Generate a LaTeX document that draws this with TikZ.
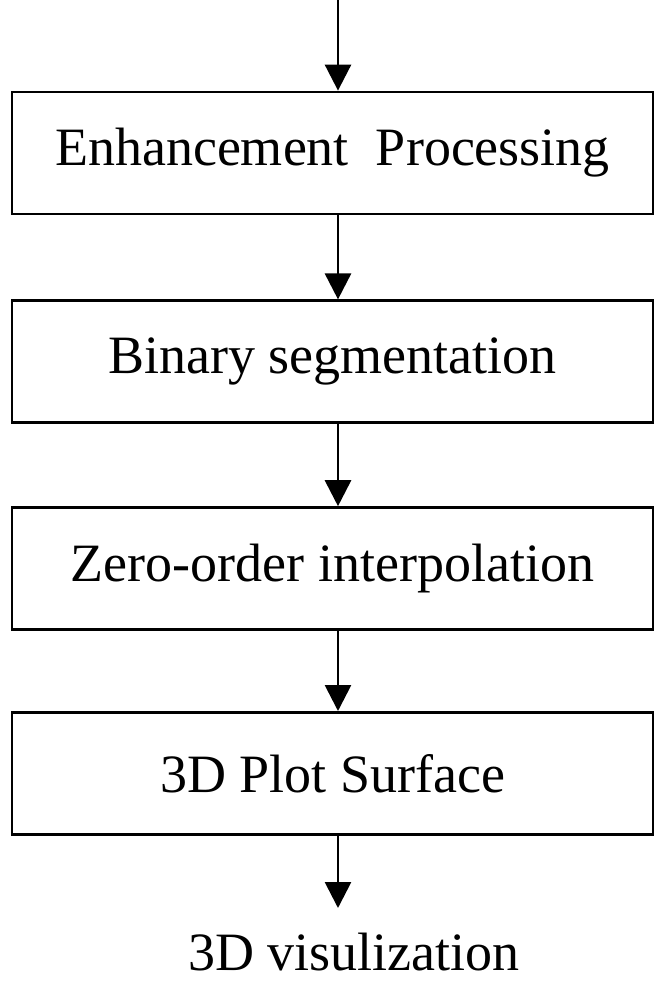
\documentclass[tikz,border=0pt]{standalone}
\usepackage{fontspec}
\setmainfont{Liberation Serif}
\usetikzlibrary{positioning, arrows.meta}

\tikzset{
    stage/.style={draw, rectangle, line width=1.4pt, minimum width=320.5pt, minimum height=61pt, inner sep=0pt},
    flow/.style={-{Triangle[length=13pt, width=13pt]}, line width=1.4pt},
}

\begin{document}
\begin{tikzpicture}[font=\fontsize{27}{32}\selectfont]

        \useasboundingbox (0,0) rectangle (328pt,-491pt);

        \coordinate (axis) at (169pt, 0);

        \node[stage] at (166.25pt, -76.5pt) (E) {Enhancement\ \ Processing};
        \node[stage, below=42pt of E] (B) {Binary segmentation};
        \node[stage, below=41pt of B] (Z) {Zero-order interpolation};
        \node[stage, below=40pt of Z] (P) {3D Plot Surface};

        \coordinate (out) at (169pt, -454pt);
        \node at (177pt, -476pt) (V) {3D visulization};

        \draw[flow] (axis) -- (E.north -| axis);
        \draw[flow] (E.south -| axis) -- (B.north -| axis);
        \draw[flow] (B.south -| axis) -- (Z.north -| axis);
        \draw[flow] (Z.south -| axis) -- (P.north -| axis);
        \draw[flow] (P.south -| axis) -- (out);

    \end{tikzpicture}
\end{document}
